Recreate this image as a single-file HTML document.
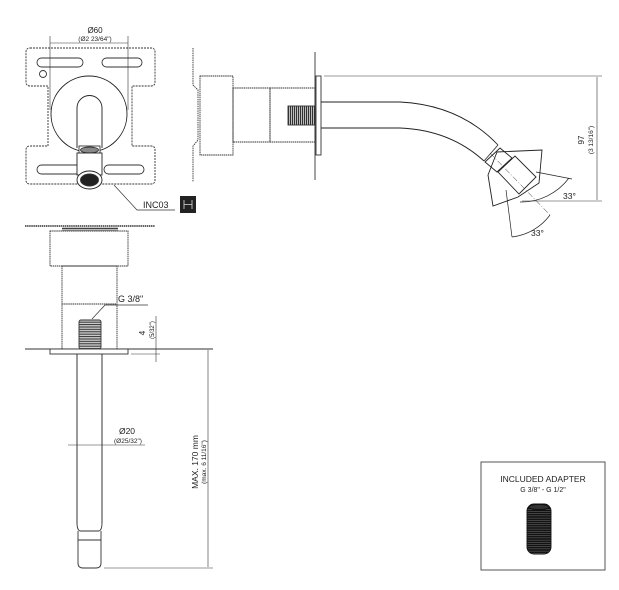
<!DOCTYPE html><html><head><style>html,body{margin:0;padding:0;background:#fff}svg{display:block}text{font-family:"Liberation Sans",sans-serif;fill:#222}</style></head><body>
<svg width="619" height="590" viewBox="0 0 619 590" xmlns="http://www.w3.org/2000/svg" fill="none" stroke="#333" stroke-width="0.9">
<defs><pattern id="th" width="2" height="4" patternUnits="userSpaceOnUse"><rect width="2" height="4" fill="#bbb" stroke="none"/><line x1="0.5" y1="0" x2="0.5" y2="4" stroke="#222" stroke-width="0.9"/></pattern>
<pattern id="tv" width="4" height="2.4" patternUnits="userSpaceOnUse"><rect width="4" height="2.4" fill="#ccc" stroke="none"/><line x1="0" y1="0.6" x2="4" y2="0.6" stroke="#222" stroke-width="0.9"/></pattern>
<pattern id="ad" width="4" height="2.2" patternUnits="userSpaceOnUse"><rect width="4" height="2.2" fill="#111" stroke="none"/><line x1="0" y1="1.1" x2="4" y2="1.1" stroke="#777" stroke-width="0.5"/></pattern></defs>
<!-- top view plate -->
<path d="M30 48 H151 Q155 48 155 52 V82 Q155 86 151 86 H132 V146 H151 Q155 146 155 150 V180 Q155 184 151 184 H30 Q26 184 26 180 V150 Q26 146 30 146 H48 V86 H30 Q26 86 26 82 V52 Q26 48 30 48 Z" stroke-dasharray="2 1"/>
<rect x="37" y="58" width="46" height="9" rx="4.5"/><rect x="102" y="58" width="40" height="9" rx="4.5"/>
<rect x="37" y="165" width="46" height="9" rx="4.5"/><rect x="104" y="165" width="40" height="9" rx="4.5"/>
<circle cx="43" cy="74" r="3.5"/>
<circle cx="89" cy="114" r="38" fill="#fff" stroke="#222"/>
<path d="M77 148 V108 A12.5 12.5 0 0 1 102 108 V148" fill="#fff" stroke="#222"/>
<rect x="79" y="146" width="21" height="7" fill="#fff"/><ellipse cx="89.5" cy="150" rx="9" ry="3" fill="#888"/>
<rect x="77" y="153" width="25" height="22" fill="#fff" stroke="#222"/>
<ellipse cx="89.5" cy="180" rx="12.5" ry="9" fill="#fff" stroke="#222"/><ellipse cx="89.5" cy="180" rx="9" ry="6" fill="#222"/>
<line x1="50" y1="36" x2="50" y2="110" stroke-width="0.6"/><line x1="128" y1="36" x2="128" y2="110" stroke-width="0.6"/>
<line x1="50" y1="43" x2="128" y2="43" stroke-width="0.6"/>
<text x="95" y="33" font-size="8" text-anchor="middle" stroke="none">Ø60</text>
<text x="95" y="41" font-size="6.5" text-anchor="middle" stroke="none">(Ø2 23/64")</text>
<polyline points="114,185 137,210 175,210" stroke-width="0.7"/>
<text x="143" y="208" font-size="9" stroke="none">INC03</text>
<rect x="180" y="196" width="16" height="17" fill="#222" stroke="none"/><path d="M184 200 V209 M192 200 V209 M184 204.5 H192" stroke="#ddd" stroke-width="0.8"/>
<!-- side view -->
<path d="M193 48 V85 L198 90 V140 L193 146 V182" stroke-dasharray="1.5 0.8"/>
<rect x="200" y="76" width="33" height="79" stroke-dasharray="1.5 0.6"/>
<rect x="233" y="88" width="37" height="54" stroke-dasharray="1.5 0.6"/>
<rect x="270" y="88" width="45" height="54" stroke-dasharray="1.5 0.6"/>
<rect x="288" y="106" width="27" height="19" fill="url(#th)"/>
<line x1="315" y1="52" x2="315" y2="180"/>
<rect x="316" y="76" width="5" height="79"/>
<!-- spout -->
<line x1="324" y1="76" x2="602" y2="76" stroke-width="0.6"/>
<path d="M321 102 H400 Q460 105 498 145 M321 128 H400 Q450 130 484 161" stroke="#222"/>
<line x1="498" y1="145" x2="484" y2="161"/>
<g stroke="#222">
<polygon points="485,162 500,148 512,158 497,172"/>
<polygon points="498,172 515,156 536,177 519,194"/>
<polygon points="497,152 542,150 539,183 518,197 493,206 488,175"/>
<line x1="490" y1="153" x2="550" y2="215" stroke-width="0.5" stroke-dasharray="6 2 1 2"/>
<path d="M506 190 L512 237 M520 202 A60 60 0 0 0 569 178 M512 237 A55 55 0 0 0 550 215 M536 172 L572 179" stroke-width="0.7"/>
</g>
<line x1="522" y1="201" x2="602" y2="201" stroke-width="0.6"/>
<line x1="597" y1="77" x2="597" y2="200" stroke-width="0.6"/>
<text transform="translate(584,140) rotate(-90)" font-size="8" text-anchor="middle" stroke="none">97</text>
<text transform="translate(593,140) rotate(-90)" font-size="6.5" text-anchor="middle" stroke="none">(3 13/16")</text>
<text x="563" y="199" font-size="8.5" stroke="none">33°</text>
<text x="531" y="236" font-size="8.5" stroke="none">33°</text>
<!-- bottom view -->
<line x1="25" y1="226" x2="155" y2="226" stroke-dasharray="1.5 0.6" stroke-width="1.4"/>
<rect x="62" y="227" width="56" height="4" fill="url(#tv)" stroke="none"/>
<rect x="50" y="231" width="78" height="35" stroke-dasharray="1.5 0.6"/>
<rect x="62" y="266" width="55" height="83" stroke-dasharray="1.5 0.6"/>
<line x1="62" y1="304" x2="117" y2="304" stroke-dasharray="1.5 0.6"/>
<rect x="79" y="320" width="22" height="29" rx="2" fill="url(#tv)"/>
<line x1="25" y1="349" x2="213" y2="349"/>
<rect x="50" y="349" width="78" height="5" fill="#fff"/>
<path d="M77 354 V523 M102 354 V523" stroke="#222"/>
<path d="M77 523 Q77 530 80 531 H99 Q102 530 102 523" />
<path d="M78 531 V563 Q78 568 83 568 H96 Q101 568 101 563 V531 M78 540 H101" />
<polyline points="92,319 105,305 148,305" stroke-width="0.7"/>
<text x="118" y="302" font-size="9" stroke="none">G 3/8"</text>
<line x1="156" y1="316" x2="156" y2="362" stroke-width="0.6"/>
<text transform="translate(145,333) rotate(-90)" font-size="8" text-anchor="middle" stroke="none">4</text>
<text transform="translate(154,330) rotate(-90)" font-size="6" text-anchor="middle" stroke="none">(5/32")</text>
<line x1="131" y1="354" x2="160" y2="354" stroke-width="0.6"/>
<line x1="208" y1="350" x2="208" y2="567" stroke-width="0.6"/>
<line x1="104" y1="568" x2="213" y2="568" stroke-width="0.6"/>
<text transform="translate(198,462) rotate(-90)" font-size="8.5" text-anchor="middle" stroke="none">MAX. 170 mm</text>
<text transform="translate(206,462) rotate(-90)" font-size="6.5" text-anchor="middle" stroke="none">(max. 6 11/16")</text>
<line x1="68" y1="445" x2="145" y2="445" stroke-width="0.6"/>
<text x="127" y="434" font-size="8.5" text-anchor="middle" stroke="none">Ø20</text>
<text x="128" y="443" font-size="6.5" text-anchor="middle" stroke="none">(Ø25/32")</text>
<!-- adapter -->
<rect x="481" y="462" width="124" height="108" stroke="#444"/>
<text x="543" y="482" font-size="8.5" text-anchor="middle" stroke="none">INCLUDED ADAPTER</text>
<text x="543" y="492" font-size="7" text-anchor="middle" stroke="none">G 3/8" - G 1/2"</text>
<rect x="527" y="504" width="24" height="50" rx="7" fill="url(#ad)" stroke="#111"/>
<ellipse cx="539" cy="507" rx="10" ry="2.5" fill="#333" stroke="#111"/>
</svg></body></html>
